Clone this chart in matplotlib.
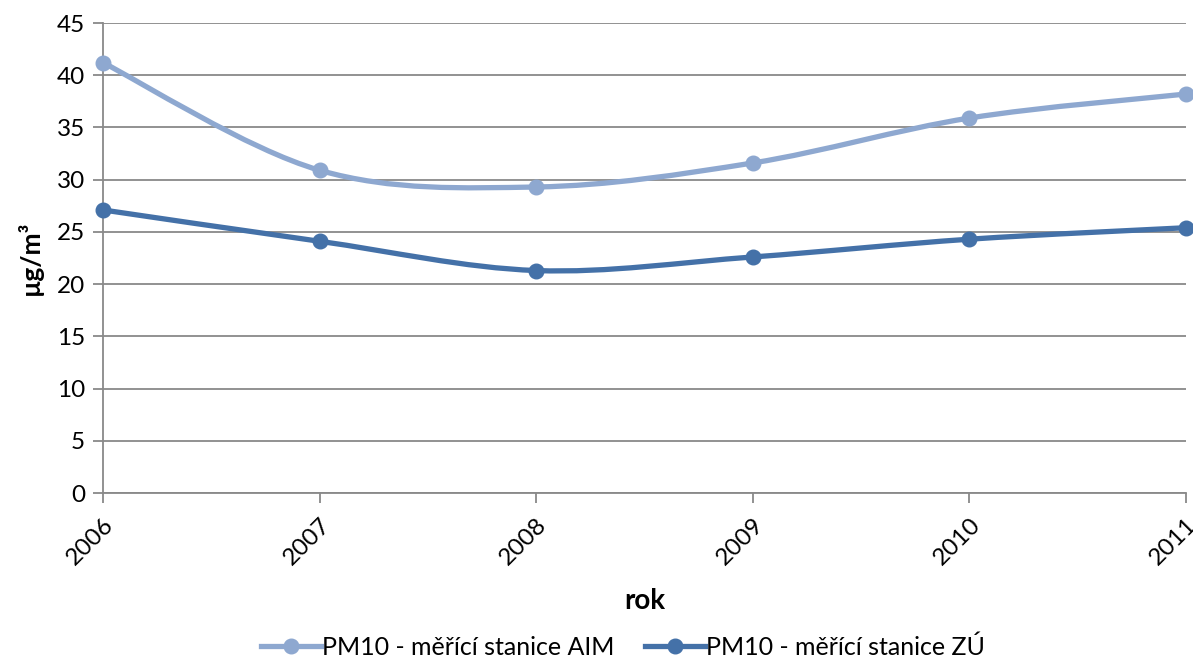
import matplotlib
matplotlib.use("Agg")
import matplotlib.pyplot as plt
from matplotlib.path import Path
from matplotlib.patches import PathPatch
from matplotlib.lines import Line2D
import numpy as np

# Roční průměry PM10
roky = [2006, 2007, 2008, 2009, 2010, 2011]
aim = [41.2, 30.9, 29.3, 31.6, 35.9, 38.2]
zu = [27.1, 24.1, 21.3, 22.6, 24.3, 25.4]
popisky = ["PM10 - měřící stanice AIM", "PM10 - měřící stanice ZÚ"]

barva_aim = "#8EA8D0"
barva_zu = "#4471A8"
seda = "#898989"

plt.rcParams["font.family"] = ["Lato", "DejaVu Sans"]


def hladka_cesta(x, y, k=1/6):
    # Bezierova cesta přes body (vyhlazení jako v Excelu)
    x = np.asarray(x, float)
    y = np.asarray(y, float)
    n = len(x)
    verts = [(x[0], y[0])]
    codes = [Path.MOVETO]
    for i in range(n - 1):
        i0 = max(i - 1, 0)
        i3 = min(i + 2, n - 1)
        c1 = (x[i] + (x[i + 1] - x[i0]) * k, y[i] + (y[i + 1] - y[i0]) * k)
        c2 = (x[i + 1] - (x[i3] - x[i]) * k, y[i + 1] - (y[i3] - y[i]) * k)
        verts += [c1, c2, (x[i + 1], y[i + 1])]
        codes += [Path.CURVE4] * 3
    return Path(verts, codes)


fig = plt.figure(figsize=(11.93, 6.59), dpi=100)
ax = fig.add_axes([103 / 1193, 1 - 493 / 659, (1186 - 103) / 1193, (493 - 23) / 659])

for hodnoty, barva in [(aim, barva_aim), (zu, barva_zu)]:
    ax.add_patch(PathPatch(hladka_cesta(roky, hodnoty), facecolor="none",
                           edgecolor=barva, lw=3.8, capstyle="round", zorder=3))
    ax.plot(roky, hodnoty, "o", color=barva, ms=10.5, zorder=4, clip_on=False)

ax.set_xlim(2006, 2011)
ax.set_ylim(0, 45)
ax.set_yticks(range(0, 46, 5))
ax.set_xticks(roky)
ax.set_xticklabels([str(r) for r in roky], rotation=45, ha="right", va="top",
                   rotation_mode="anchor")
ax.grid(axis="y", color=seda, lw=1.3)
ax.set_axisbelow(True)
for s in ["top", "right"]:
    ax.spines[s].set_visible(False)
for s in ["left", "bottom"]:
    ax.spines[s].set_color(seda)
    ax.spines[s].set_linewidth(1.3)
ax.tick_params(axis="y", length=7, width=1.3, color=seda, labelsize=17.5, pad=6)
ax.tick_params(axis="x", length=7, width=1.3, color=seda, labelsize=17.5, pad=8)

ax.set_ylabel("µg/m³", fontsize=19, fontweight="bold", labelpad=10)
ax.set_xlabel("rok", fontsize=20, fontweight="bold", labelpad=14)

ruka = [Line2D([], [], color=c, lw=3.8, marker="o", ms=10.5) for c in (barva_aim, barva_zu)]
fig.legend(ruka, popisky, loc="center", bbox_to_anchor=(623 / 1193, 1 - 647 / 659),
           ncol=2, frameon=False, fontsize=18, handlelength=2.4,
           handletextpad=0.05, columnspacing=1.2)

fig.savefig("out.png", dpi=100)
